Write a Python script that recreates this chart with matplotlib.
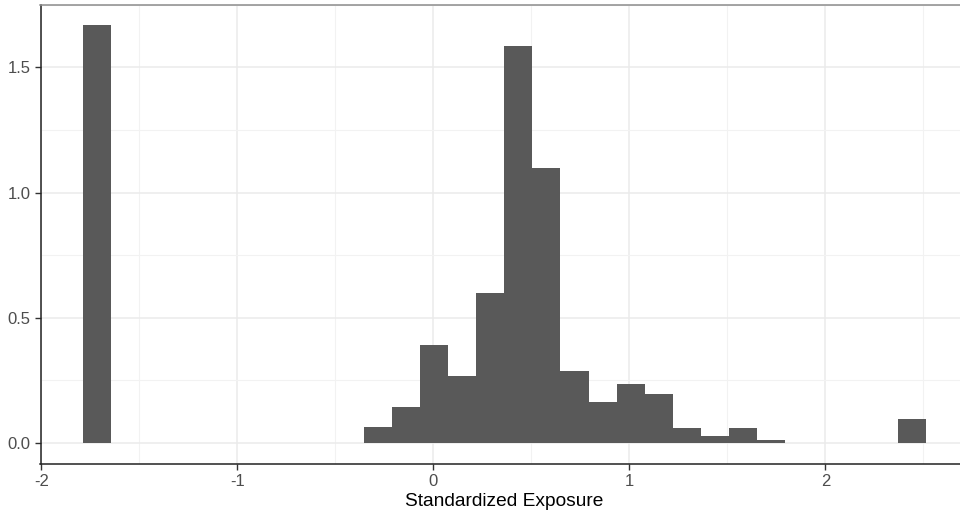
import matplotlib.pyplot as plt
import numpy as np

plt.rcParams['font.family'] = ['Liberation Sans', 'DejaVu Sans']

# histogram (density) of the standardized exposure, 30 bins
bin_start = -1.790
bin_width = 0.1434
density = [1.667, 0, 0, 0, 0, 0, 0, 0, 0, 0,
           0.066, 0.143, 0.392, 0.269, 0.598, 1.584, 1.096, 0.288, 0.166, 0.236,
           0.195, 0.060, 0.030, 0.062, 0.012, 0, 0, 0, 0, 0.096]
x_ticks = [-2, -1, 0, 1, 2]
y_ticks = [0.0, 0.5, 1.0, 1.5]
x_minor = [-1.5, -0.5, 0.5, 1.5, 2.5]
y_minor = [0.25, 0.75, 1.25, 1.75]

edges = bin_start + bin_width * np.arange(len(density))

W, H = 960, 517
fig = plt.figure(figsize=(W / 100, H / 100), dpi=100)
ax = fig.add_axes([40.5 / W, (H - 464) / H, (968 - 40.5) / W, (464 - 4.5) / H])

ax.bar(edges, density, width=bin_width, align='edge', color='#595959',
       edgecolor='none', zorder=3)

lo, hi = bin_start, bin_start + bin_width * len(density)
pad = (hi - lo) * 0.05
ax.set_xlim(lo - pad, hi + pad)
ax.set_ylim(-max(density) * 0.05, max(density) * 1.05)

ax.set_xticks(x_ticks)
ax.set_xticklabels([str(v) for v in x_ticks])
ax.set_yticks(y_ticks)
ax.set_yticklabels(['%.1f' % v for v in y_ticks])
ax.set_xticks(x_minor, minor=True)
ax.set_yticks(y_minor, minor=True)

ax.grid(which='major', color='#ebebeb', linewidth=1.1, zorder=0)
ax.grid(which='minor', color='#f2f2f2', linewidth=0.8, zorder=0)
ax.set_axisbelow(True)

ax.tick_params(which='major', length=4, width=1, color='#333333',
               labelsize=12, labelcolor='#4d4d4d', pad=3)
ax.tick_params(which='minor', length=0)

for side in ['left', 'bottom']:
    ax.spines[side].set_color('#222222')
    ax.spines[side].set_linewidth(1.1)
ax.spines['top'].set_color('#8c8c8c')
ax.spines['top'].set_linewidth(1.1)
ax.spines['right'].set_visible(False)

ax.set_xlabel('Standardized Exposure', fontsize=13.8, color='black', labelpad=3)

fig.savefig('out.png', dpi=100)
